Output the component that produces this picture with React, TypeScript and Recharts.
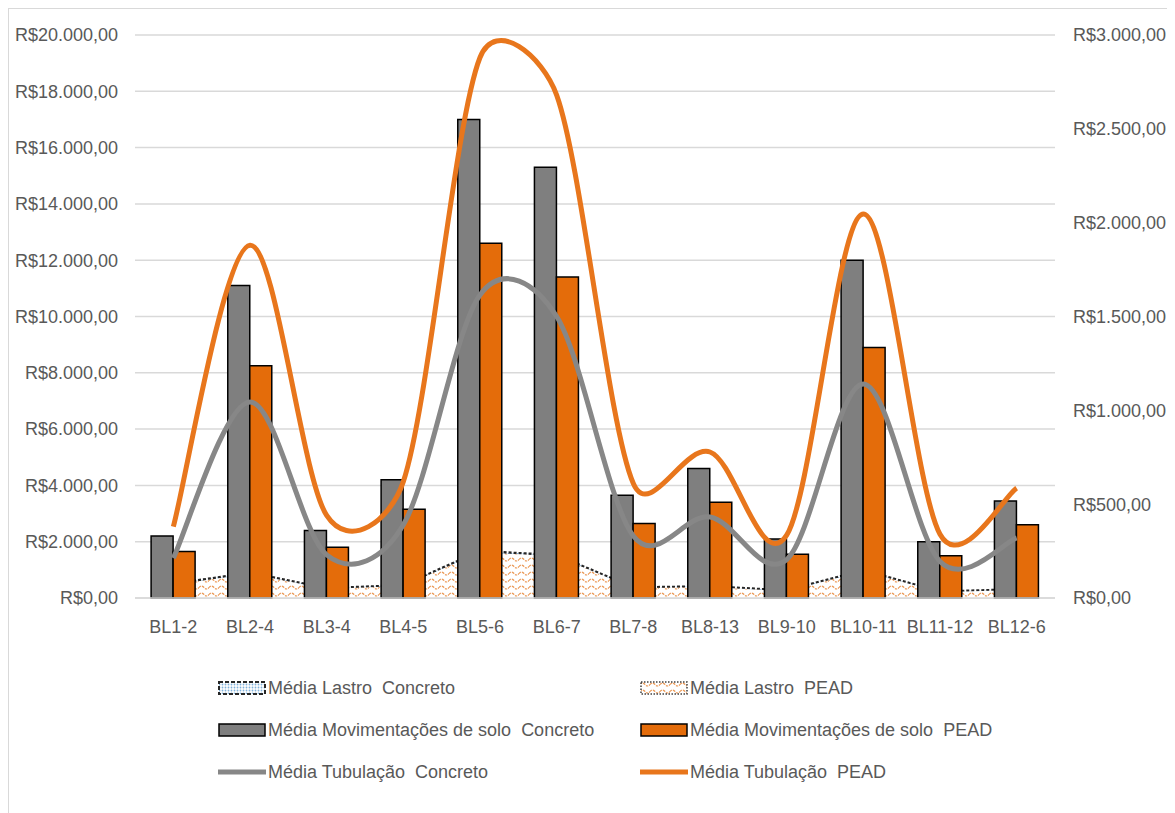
import * as React from "react";
import { ComposedChart, Area, Bar, Line, XAxis, YAxis, CartesianGrid, Legend } from "recharts";

const categories = ["BL1-2", "BL2-4", "BL3-4", "BL4-5", "BL5-6", "BL6-7", "BL7-8", "BL8-13", "BL9-10", "BL10-11", "BL11-12", "BL12-6"];

// Lastro (ballast) averages, secondary axis
const lastroConcreto = [75, 135, 52, 68, 250, 228, 56, 62, 40, 148, 34, 46];
const lastroPead = [70, 128, 48, 64, 243, 222, 52, 58, 36, 142, 31, 43];

// soil movement averages, primary axis
const movConcreto = [2200, 11100, 2400, 4200, 17000, 15300, 3650, 4600, 2100, 12000, 2000, 3450];
const movPead = [1650, 8250, 1800, 3150, 12600, 11400, 2650, 3400, 1550, 8900, 1500, 2600];

// pipe averages, secondary axis
const tubConcreto = [213, 1045, 230, 390, 1615, 1500, 330, 432, 205, 1140, 195, 320];
const tubPead = [380, 1880, 440, 620, 2880, 2680, 610, 778, 335, 2046, 340, 586];

const leftTicks = [0, 2000, 4000, 6000, 8000, 10000, 12000, 14000, 16000, 18000, 20000];
const rightTicks = [0, 500, 1000, 1500, 2000, 2500, 3000];

const data = categories.map((name, i) => ({
  name,
  lastroConcreto: lastroConcreto[i],
  lastroPead: lastroPead[i],
  movConcreto: movConcreto[i],
  movPead: movPead[i],
  tubConcreto: tubConcreto[i],
  tubPead: tubPead[i],
}));

const FONT = "'Liberation Sans', Arial, sans-serif";
const TEXT = "#595959";
const GRAY = "#7f7f7f";
const ORANGE = "#e46c0a";
const LINE_ORANGE = "#e8761c";
const LINE_GRAY = "#878787";

function brl(v: number) {
  const s = Math.round(v).toString().replace(/\B(?=(\d{3})+(?!\d))/g, ".");
  return `R$${s},00`;
}

// spreadsheet-like smoothed line: cardinal bezier with tension 1/6,
// tangent length capped at half of the segment it belongs to
function smoothCurve(context: any) {
  let pts: [number, number][] = [];
  const cap = (vx: number, vy: number, seg: number): [number, number] => {
    const len = Math.hypot(vx, vy);
    const max = seg / 2;
    if (len > max && len > 0) return [(vx * max) / len, (vy * max) / len];
    return [vx, vy];
  };
  return {
    areaStart() {},
    areaEnd() {},
    lineStart() {
      pts = [];
    },
    lineEnd() {
      if (!pts.length) return;
      context.moveTo(pts[0][0], pts[0][1]);
      for (let i = 0; i < pts.length - 1; i++) {
        const p0 = pts[Math.max(i - 1, 0)];
        const p1 = pts[i];
        const p2 = pts[i + 1];
        const p3 = pts[Math.min(i + 2, pts.length - 1)];
        const seg = Math.hypot(p2[0] - p1[0], p2[1] - p1[1]);
        const a = cap((p2[0] - p0[0]) / 6, (p2[1] - p0[1]) / 6, seg);
        const b = cap((p3[0] - p1[0]) / 6, (p3[1] - p1[1]) / 6, seg);
        context.bezierCurveTo(p1[0] + a[0], p1[1] + a[1], p2[0] - b[0], p2[1] - b[1], p2[0], p2[1]);
      }
    },
    point(x: number, y: number) {
      pts.push([+x, +y]);
    },
  };
}

function Patterns({ suffix = "" }: { suffix?: string }) {
  return (
    <defs>
      <pattern id={`dotsBlue${suffix}`} width="3" height="3" patternUnits="userSpaceOnUse">
        <rect width="3" height="3" fill="#ffffff" />
        <circle cx="1.5" cy="1.5" r="0.9" fill="#7fb2dc" />
      </pattern>
      <pattern id={`waveOrange${suffix}`} width="10" height="7" patternUnits="userSpaceOnUse">
        <rect width="10" height="7" fill="#ffffff" />
        <path d="M0 4.5 Q2.5 1.5 5 4.5 T10 4.5" stroke="#eb9a58" strokeWidth="1.2" fill="none" strokeDasharray="2.5 1" />
      </pattern>
    </defs>
  );
}

const legendItems = [
  { label: "Média Lastro  Concreto", kind: "areaConcreto" },
  { label: "Média Lastro  PEAD", kind: "areaPead" },
  { label: "Média Movimentações de solo  Concreto", kind: "barGray" },
  { label: "Média Movimentações de solo  PEAD", kind: "barOrange" },
  { label: "Média Tubulação  Concreto", kind: "lineGray" },
  { label: "Média Tubulação  PEAD", kind: "lineOrange" },
];

function LegendIcon({ kind }: { kind: string }) {
  return (
    <svg width={48} height={16} style={{ display: "block", marginRight: 2 }}>
      <Patterns suffix="-lg" />
      {kind === "areaConcreto" && (
        <rect x={1} y={2} width={46} height={12} fill="url(#dotsBlue-lg)" stroke="#262626" strokeWidth={2} strokeDasharray="4 2" />
      )}
      {kind === "areaPead" && (
        <rect x={1} y={2} width={46} height={12} fill="url(#waveOrange-lg)" stroke="#404040" strokeWidth={1.5} strokeDasharray="1.5 1.5" />
      )}
      {kind === "barGray" && <rect x={1} y={2} width={46} height={12} fill={GRAY} stroke="#000" strokeWidth={1.5} />}
      {kind === "barOrange" && <rect x={1} y={2} width={46} height={12} fill={ORANGE} stroke="#000" strokeWidth={1.5} />}
      {kind === "lineGray" && <line x1={0} y1={8} x2={48} y2={8} stroke={LINE_GRAY} strokeWidth={5} />}
      {kind === "lineOrange" && <line x1={0} y1={8} x2={48} y2={8} stroke={LINE_ORANGE} strokeWidth={5} />}
    </svg>
  );
}

function LegendContent() {
  return (
    <div
      style={{
        display: "grid",
        gridTemplateColumns: "422px 1fr",
        gridAutoRows: "42px",
        width: 860,
        fontFamily: FONT,
        fontSize: 18,
        color: TEXT,
      }}
    >
      {legendItems.map((it) => (
        <div key={it.label} style={{ display: "flex", alignItems: "center", whiteSpace: "pre" }}>
          <LegendIcon kind={it.kind} />
          <span>{it.label}</span>
        </div>
      ))}
    </div>
  );
}

export default function App() {
  const tick = { fill: TEXT, fontSize: 18, fontFamily: FONT };
  return (
    <div
      style={{
        width: 1160,
        height: 815,
        border: "1px solid #d9d9d9",
        boxSizing: "border-box",
        background: "#ffffff",
      }}
    >
      <ComposedChart
        width={1158}
        height={813}
        data={data}
        margin={{ top: 26, right: 0, bottom: 184, left: 0 }}
        barCategoryGap="21%"
        barGap={0}
      >
        <Patterns />
        <CartesianGrid yAxisId="left" vertical={false} stroke="#d9d9d9" strokeWidth={1.5} />
        <XAxis
          dataKey="name"
          height={40}
          tick={tick}
          tickLine={false}
          tickSize={0}
          tickMargin={22}
          axisLine={{ stroke: "#d9d9d9", strokeWidth: 1.5 }}
          interval={0}
        />
        <YAxis
          yAxisId="left"
          orientation="left"
          width={126}
          domain={[0, 20000]}
          ticks={leftTicks}
          tickFormatter={brl}
          tick={tick}
          tickLine={false}
          tickSize={0}
          tickMargin={17}
          axisLine={false}
        />
        <YAxis
          yAxisId="right"
          orientation="right"
          width={112}
          domain={[0, 3000]}
          ticks={rightTicks}
          tickFormatter={brl}
          tick={{ ...tick, textAnchor: "start" }}
          tickLine={false}
          tickSize={0}
          tickMargin={18}
          axisLine={false}
        />
        <Legend
          layout="horizontal"
          verticalAlign="middle"
          align="center"
          content={<LegendContent />}
          wrapperStyle={{ top: 658, left: 209, width: 860 }}
        />
        <Area
          yAxisId="right"
          type="linear"
          dataKey="lastroConcreto"
          name="Média Lastro  Concreto"
          fill="url(#dotsBlue)"
          fillOpacity={1}
          stroke="#262626"
          strokeWidth={2.5}
          strokeDasharray="3 2"
          isAnimationActive={false}
        />
        <Area
          yAxisId="right"
          type="linear"
          dataKey="lastroPead"
          name="Média Lastro  PEAD"
          fill="url(#waveOrange)"
          fillOpacity={1}
          stroke="none"
          isAnimationActive={false}
        />
        <Bar
          yAxisId="left"
          dataKey="movConcreto"
          name="Média Movimentações de solo  Concreto"
          fill={GRAY}
          stroke="#000"
          strokeWidth={1.5}
          isAnimationActive={false}
        />
        <Bar
          yAxisId="left"
          dataKey="movPead"
          name="Média Movimentações de solo  PEAD"
          fill={ORANGE}
          stroke="#000"
          strokeWidth={1.5}
          isAnimationActive={false}
        />
        <Line
          yAxisId="right"
          type={smoothCurve as any}
          dataKey="tubConcreto"
          name="Média Tubulação  Concreto"
          stroke={LINE_GRAY}
          strokeWidth={5}
          dot={false}
          activeDot={false}
          isAnimationActive={false}
        />
        <Line
          yAxisId="right"
          type={smoothCurve as any}
          dataKey="tubPead"
          name="Média Tubulação  PEAD"
          stroke={LINE_ORANGE}
          strokeWidth={5}
          dot={false}
          activeDot={false}
          isAnimationActive={false}
        />
      </ComposedChart>
    </div>
  );
}
